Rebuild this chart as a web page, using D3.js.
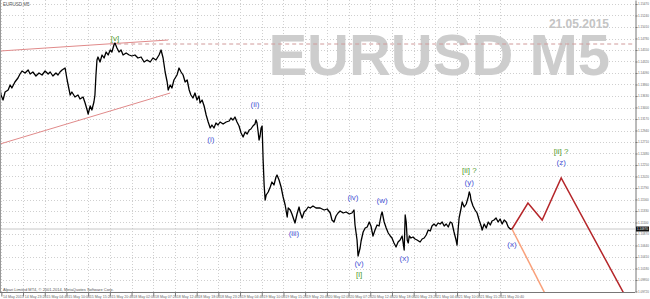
<!DOCTYPE html>
<html>
<head>
<meta charset="utf-8">
<script src="https://cdn.jsdelivr.net/npm/d3@7"></script>
<style>
  body { margin: 0; background: #fff; }
  svg { display: block; font-family: "Liberation Sans", Arial, sans-serif; }
</style>
</head>
<body>
<div id="chart"></div>
<script>
// M5 close prices, bar index counted from the first bar on screen
const bars = [0,3,9,15,24,30,35,44,53,59,65,74,83,89,97,106,115,124,133,142,148,156,165,171,177,183,192,198,204,207,212,221,230,236,245,251,257,260,266,271,277,280,
  283,286,289,295,301,307,313,319,325,330,336,339,345,351,357,363,372,381,389,398,407,416,425,434,443,451,460,469,475,481,487,493,496,502,507,513,522,528,534,540,546,552,558,563,569,575,581,587,
  590,596,602,608,614,620,625,631,637,643,649,658,667,676,681,687,693,699,705,711,717,723,729,735,740,746,752,755,758,761,764,767,770,773,776,779,782,785,791,797,802,808,814,817,823,829,835,841,847,850,856,861,867,870,876,882,885,891,897,903,909,915,923,932,944,956,965,974,979,985,991,997,1003,1012,1021,1030,1038,1044,1047,1053,1056,1062,1065,1071,1077,1083,1089,1094,1100,1106,1112,1118,1124,1127,1133,1139,1145,1151,1156,1162,1168,1174,1180,
  1186,1192,1195,1198,1201,1204,1207,1212,1218,1224,1230,1239,1245,1251,1257,1263,1269,1274,1280,1286,1292,1298,1304,1310,1316,1322,1328,1333,1339,1345,1348,1351,1354,1360,1363,1369,1375,1381,1384,1387,1389,1395,1401,1407,1413,1419,1422,1428,1434,1440,1446,1451,1457,1463,1469,1475,1481,1487,1493,1499,1505,1510];
const closes = [1.1379,1.1365,1.1355,1.1371,1.1375,1.1385,1.1379,1.1391,1.1399,1.1407,1.1413,1.1409,1.1415,1.1407,1.1411,1.1403,1.1409,1.1405,1.1413,1.1407,1.1411,1.1403,1.1409,1.1405,1.1411,1.1415,1.1419,1.1395,1.1375,1.1365,1.1371,1.1361,1.1365,1.1357,1.1361,1.1349,1.1335,1.1327,1.1343,1.1335,1.1351,1.1365,
  1.1405,1.1435,1.1441,1.1431,1.1445,1.1439,1.1451,1.1445,1.1455,1.1451,1.1465,1.1469,1.1459,1.1451,1.1455,1.1445,1.1449,1.1445,1.1443,1.1445,1.1439,1.1441,1.1431,1.1435,1.1431,1.1439,1.1435,1.1445,1.1455,1.1439,1.1411,1.1391,1.1375,1.1385,1.1379,1.1395,1.1405,1.1419,1.1411,1.1405,1.1391,1.1395,1.1375,1.1365,1.1359,1.1369,1.1355,1.1363,
  1.1349,1.1355,1.1343,1.1325,1.1311,1.1299,1.1305,1.1299,1.1309,1.1305,1.1311,1.1307,1.1311,1.1313,1.1319,1.1315,1.1321,1.1311,1.1303,1.1289,1.1281,1.1291,1.1287,1.1295,1.1297,1.1303,1.1307,1.1315,1.1309,1.1293,1.1275,1.1283,1.1299,1.1303,1.1235,1.1185,1.1155,1.1165,1.1171,1.1181,1.1191,1.1185,1.1201,1.1205,1.1195,1.1181,1.1161,1.1145,1.1121,1.1139,1.1135,1.1127,1.1115,1.1109,1.1127,1.1141,1.1131,1.1119,1.1131,1.1135,1.1141,1.1139,1.1143,1.1139,1.1139,1.1135,1.1137,1.1129,1.1115,1.1111,1.1123,1.1129,1.1133,1.1129,1.1131,1.1127,1.1129,1.1135,1.1105,1.1075,1.1043,1.1059,1.1073,1.1091,1.1099,1.1101,1.1111,1.1103,1.1083,1.1095,1.1105,1.1103,1.1125,1.1131,1.1111,1.1099,1.1089,1.1083,1.1079,1.1069,1.1061,1.1071,1.1075,
  1.1083,1.1055,1.1125,1.1111,1.1075,1.1069,1.1083,1.1079,1.1081,1.1077,1.1075,1.1071,1.1077,1.1079,1.1085,1.1095,1.1093,1.1103,1.1107,1.1103,1.1109,1.1107,1.1111,1.1103,1.1107,1.1101,1.1111,1.1109,1.1091,1.1075,1.1065,1.1095,1.1119,1.1139,1.1151,1.1141,1.1147,1.1161,1.1171,1.1165,1.1155,1.1143,1.1135,1.1129,1.1115,1.1103,1.1095,1.1107,1.1099,1.1111,1.1105,1.1113,1.1115,1.1119,1.1111,1.1117,1.1107,1.1115,1.1111,1.1101,1.1097,1.1097];

const bidPrice = 1.1097;

// projected paths after the last bar
const mainProjBars = [1510, 1557, 1599, 1655, 1844];
const mainProjPrices = [1.1097, 1.1149, 1.1115, 1.1199, 1.0963];
const altProjBars = [1510, 1611];
const altProjPrices = [1.1097, 1.0963];

// channel lines
const upperLineBars = [0, 496];
const upperLinePrices = [1.1453, 1.1475];
const lowerLineBars = [0, 502];
const lowerLinePrices = [1.1267, 1.1369];
const highLevelBar = 325;
const highLevel = 1.1467;

const priceTicks = [1.1547,1.1524,1.1501,1.1478,1.1455,1.1432,1.1409,1.1386,1.1363,1.1340,1.1317,1.1294,1.1271,1.1248,1.1225,1.1202,1.1179,1.1156,1.1133,1.1110,1.1087,1.1064,1.1041,1.1018,1.0995,1.0972];

const timeTickBars = [4,68,132,196,260,324,388,452,516,580,644,708,772,836,900,964,1028,1092,1156,1220,1284,1348,1412,1476];
const timeTickLabels = ["14 May 2015","14 May 23:20","15 May 04:40","15 May 10:00","15 May 15:20","15 May 20:40","18 May 02:00","18 May 07:20","18 May 12:40","18 May 18:00","18 May 23:20","19 May 04:40","19 May 10:00","19 May 15:20","19 May 20:40","20 May 02:00","20 May 07:20","20 May 12:40","20 May 18:00","20 May 23:20","21 May 04:40","21 May 10:00","21 May 15:20","21 May 20:40"];

// wave labels: bar, price, text, kind
const waveBars = [339, 622, 752, 867, 1041, 1127, 1059, 1059, 1192, 1384, 1384, 1510, 1655, 1655];
const wavePrices = [1.1474, 1.1271, 1.1342, 1.1083, 1.1155, 1.1149, 1.1023, 1.1001, 1.1033, 1.1209, 1.1185, 1.1061, 1.1247, 1.1225];
const waveTexts = ["[v]", "(i)", "(ii)", "(iii)", "(iv)", "(w)", "(v)", "[i]", "(x)", "[ii] ?", "(y)", "(x)", "[ii] ?", "(z)"];
const waveKinds = ["g", "b", "b", "b", "b", "b", "b", "g", "b", "g", "b", "b", "g", "b"];

const W = 650, H = 299;
const plotR = 635, plotB = 292;

const svg = d3.select("#chart").append("svg")
    .attr("width", W)
    .attr("height", H);

const x = d3.scaleLinear().domain([0, 1510]).range([0, 512]);
const y = d3.scaleLinear().domain([1.0971, 1.1555]).range([plotB, 0]);

svg.append("defs").append("clipPath")
    .attr("id", "plot")
  .append("rect")
    .attr("x", 0).attr("y", 0)
    .attr("width", plotR).attr("height", plotB);

// dotted grid
const grid = svg.append("g");
grid.selectAll("line.h")
  .data(priceTicks)
  .enter().append("line")
    .attr("x1", 0).attr("x2", plotR)
    .attr("y1", d => Math.round(y(d)) + 0.5)
    .attr("y2", d => Math.round(y(d)) + 0.5)
    .attr("stroke", "#cfcfcf")
    .attr("stroke-dasharray", "1,2");
grid.selectAll("line.v")
  .data(timeTickBars)
  .enter().append("line")
    .attr("x1", d => Math.round(x(d)) + 0.5)
    .attr("x2", d => Math.round(x(d)) + 0.5)
    .attr("y1", 0).attr("y2", plotB)
    .attr("stroke", "#cfcfcf")
    .attr("stroke-dasharray", "1,2");

// watermark
svg.append("text")
    .attr("x", 610).attr("y", 75)
    .attr("text-anchor", "end")
    .attr("font-size", 58)
    .attr("font-weight", "bold")
    .attr("fill", "#cdcdcd")
    .text("EURUSD M5");
svg.append("text")
    .attr("x", 609).attr("y", 27.5)
    .attr("text-anchor", "end")
    .attr("font-size", 12)
    .attr("font-weight", "bold")
    .attr("fill", "#c4c4c4")
    .text("21.05.2015");

const plot = svg.append("g").attr("clip-path", "url(#plot)");

// bid line
plot.append("line")
    .attr("x1", 0).attr("x2", plotR)
    .attr("y1", y(bidPrice)).attr("y2", y(bidPrice))
    .attr("stroke", "#c8c8c8");

// channel lines
const seg = d3.line().x(d => x(d[0])).y(d => y(d[1]));
plot.append("path")
    .attr("d", seg(d3.zip(upperLineBars, upperLinePrices)))
    .attr("fill", "none").attr("stroke", "#e08a8a");
plot.append("path")
    .attr("d", seg(d3.zip(lowerLineBars, lowerLinePrices)))
    .attr("fill", "none").attr("stroke", "#e08a8a");
plot.append("line")
    .attr("x1", x(highLevelBar)).attr("x2", plotR)
    .attr("y1", y(highLevel)).attr("y2", y(highLevel))
    .attr("stroke", "#d09a9a")
    .attr("stroke-dasharray", "4,3");

// price line
plot.append("path")
    .attr("d", seg(d3.zip(bars, closes)))
    .attr("fill", "none")
    .attr("stroke", "#000")
    .attr("stroke-width", 1.3)
    .attr("stroke-linejoin", "round");

// projections
plot.append("path")
    .attr("d", seg(d3.zip(altProjBars, altProjPrices)))
    .attr("fill", "none").attr("stroke", "#f9a07a").attr("stroke-width", 1.5);
plot.append("path")
    .attr("d", seg(d3.zip(mainProjBars, mainProjPrices)))
    .attr("fill", "none").attr("stroke", "#b5262a").attr("stroke-width", 1.5);

// wave labels
svg.append("g").selectAll("text")
  .data(waveTexts)
  .enter().append("text")
    .attr("x", (d, i) => x(waveBars[i]))
    .attr("y", (d, i) => y(wavePrices[i]))
    .attr("text-anchor", "middle")
    .attr("font-size", 8)
    .attr("fill", (d, i) => waveKinds[i] === "g" ? "#4f9a2c" : "#4a56d6")
    .text(d => d);

// right price axis
const yAxis = svg.append("g")
    .attr("transform", `translate(${plotR + 0.5},0)`)
    .call(d3.axisRight(y).tickValues(priceTicks).tickSize(2).tickSizeOuter(0).tickPadding(0.5).tickFormat(d3.format(".5f")));
yAxis.select(".domain").attr("stroke", "#777");
yAxis.selectAll(".tick line").attr("stroke", "#777");
yAxis.selectAll("text").attr("font-size", 3).attr("fill", "#666").attr("font-family", "Liberation Sans, Arial, sans-serif");

// bid tag
svg.append("rect")
    .attr("x", plotR + 1).attr("y", y(bidPrice) - 2.5)
    .attr("width", 13).attr("height", 5)
    .attr("fill", "#111");
svg.append("text")
    .attr("x", plotR + 2).attr("y", y(bidPrice) + 1.1)
    .attr("font-size", 3).attr("fill", "#fff")
    .text(d3.format(".5f")(bidPrice));

// bottom time axis
const xAxis = svg.append("g")
    .attr("transform", `translate(0,${plotB + 0.5})`)
    .call(d3.axisBottom(x).tickValues(timeTickBars).tickSize(4).tickSizeOuter(0)
      .tickFormat((d, i) => timeTickLabels[i]));
xAxis.select(".domain").attr("d", `M0,0H${plotR}`).attr("stroke", "#777");
xAxis.selectAll(".tick line").attr("stroke", "#777");
xAxis.selectAll("text")
    .attr("text-anchor", "start")
    .attr("x", 1.2).attr("dy", 0).attr("y", 5.3)
    .attr("font-size", 3.6).attr("fill", "#666")
    .attr("font-family", "Liberation Sans, Arial, sans-serif");

// left border
svg.append("line")
    .attr("x1", 0.5).attr("x2", 0.5).attr("y1", 0).attr("y2", plotB)
    .attr("stroke", "#999");

// captions
svg.append("text")
    .attr("x", 3).attr("y", 6)
    .attr("font-size", 4.5).attr("fill", "#555")
    .text("EURUSD,M5");
svg.append("text")
    .attr("x", 3).attr("y", 290.5)
    .attr("font-size", 4).attr("fill", "#555")
    .text("Alpari Limited MT4, © 2001-2014, MetaQuotes Software Corp.");
</script>
</body>
</html>
